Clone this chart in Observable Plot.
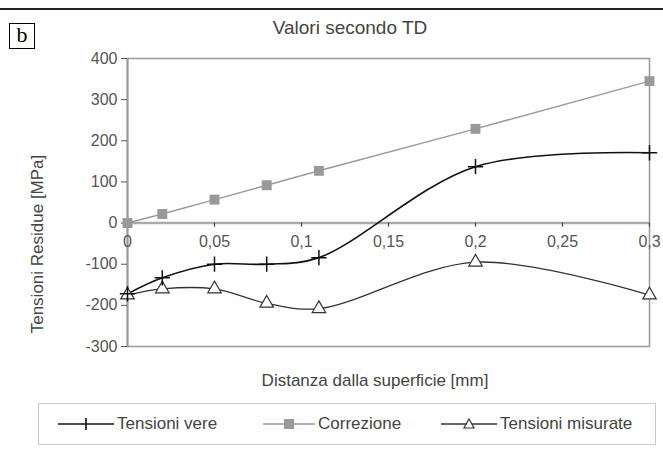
<!DOCTYPE html>
<html>
<head>
<meta charset="utf-8">
<script src="https://cdn.jsdelivr.net/npm/d3@7"></script>
<script src="https://cdn.jsdelivr.net/npm/@observablehq/plot@0.6"></script>
<style>
  html, body { margin: 0; padding: 0; background: #fff; }
  #wrap { position: relative; width: 663px; height: 456px; overflow: hidden; font-family: "Liberation Sans", Arial, sans-serif; color: #444; }
  #wrap svg.plot { position: absolute; left: 0; top: 0; }
  .abs { position: absolute; white-space: nowrap; }
  #topline { left: 0; top: 8px; width: 663px; height: 0; border-top: 2px solid #222; }
  #bbox { left: 9px; top: 23px; width: 24px; height: 24px; border: 1px solid #000; font-family: "Liberation Serif", "Times New Roman", serif; font-size: 22px; color: #000; text-align: center; line-height: 22px; }
  #title { left: 0; width: 700px; top: 17px; text-align: center; font-size: 19px; color: #444; }
  #ytitle { left: 38px; top: 244px; font-size: 17px; color: #444; transform: translate(-50%, -50%) rotate(-90deg); }
  #xtitle { left: 375px; top: 371px; font-size: 17px; color: #444; transform: translateX(-50%); }
  #legend { left: 38px; top: 403px; width: 616px; height: 40px; border: 1px solid #c8c8c8; }
  .item { position: absolute; top: 0; height: 40px; display: flex; align-items: center; font-size: 17px; color: #444; }
  .item svg { margin-right: 2px; }
</style>
</head>
<body>
<div id="wrap">
  <div class="abs" id="topline"></div>
  <div class="abs" id="bbox">b</div>
  <div class="abs" id="title"></div>
  <div class="abs" id="ytitle"></div>
  <div class="abs" id="xtitle"></div>
  <div class="abs" id="legend"></div>
</div>
<script>
const titleText = "Valori secondo TD";
const xLabel = "Distanza dalla superficie [mm]";
const yLabel = "Tensioni Residue [MPa]";

const distanza = [0, 0.02, 0.05, 0.08, 0.11, 0.2, 0.3];
const tensioniVere = [-172, -133, -100, -100, -84, 137, 171];
const correzione = [0, 22, 57, 92, 127, 229, 345];
const tensioniMisurate = [-175, -160, -160, -195, -208, -95, -175];

const seriesNames = ["Tensioni vere", "Correzione", "Tensioni misurate"];
const xTicks = [0, 0.05, 0.1, 0.15, 0.2, 0.25, 0.3];
const yTicks = [-300, -200, -100, 0, 100, 200, 300, 400];

const toRows = vals => distanza.map((x, i) => ({x, y: vals[i]}));
const vere = toRows(tensioniVere);
const corr = toRows(correzione);
const mis = toRows(tensioniMisurate);

const fmtX = d => String(d).replace(".", ",");

const chart = Plot.plot({
  width: 663,
  height: 456,
  marginTop: 58,
  marginBottom: 110,
  marginLeft: 127,
  marginRight: 14,
  style: {fontFamily: "Liberation Sans, Arial, sans-serif", background: "transparent"},
  x: {domain: [0, 0.3], axis: null},
  y: {domain: [-300, 400], axis: null},
  marks: [
    Plot.frame({stroke: "#9a9a9a", strokeWidth: 1.5}),
    Plot.ruleY([0], {stroke: "#aaaaaa", strokeWidth: 2.5}),
    Plot.ruleX([0], {stroke: "#999", strokeWidth: 2}),
    Plot.axisY({ticks: yTicks, tickSize: 6, tickPadding: 4, tickFormat: d => String(d), fontSize: 16, color: "#555", label: null}),
    Plot.ruleX(xTicks, {x: d => d, y1: 0, y2: -10, stroke: "#444", strokeWidth: 1.2}),
    Plot.text(xTicks, {x: d => d, y: 0, dy: 19, text: fmtX, fontSize: 16, fill: "#555"}),
    Plot.line(corr, {x: "x", y: "y", stroke: "#9a9a9a", strokeWidth: 1.5}),
    Plot.line(mis, {x: "x", y: "y", stroke: "#333", strokeWidth: 1.3, curve: "catmull-rom"}),
    Plot.line(vere, {x: "x", y: "y", stroke: "#111", strokeWidth: 1.6, curve: "catmull-rom"}),
    Plot.dot(corr, {x: "x", y: "y", symbol: "square", r: 5.6, fill: "#999", stroke: "none"}),
    Plot.dot(mis, {x: "x", y: "y", symbol: "triangle", r: 5, fill: "white", stroke: "#333", strokeWidth: 1.2}),
    Plot.dot(vere, {x: "x", y: "y", symbol: "plus", r: 5, stroke: "#111", strokeWidth: 1.5})
  ]
});
chart.classList.add("plot");
document.getElementById("wrap").prepend(chart);

document.getElementById("title").textContent = titleText;
document.getElementById("xtitle").textContent = xLabel;
document.getElementById("ytitle").textContent = yLabel;

// legend
const legend = document.getElementById("legend");
const legendPos = [19, 224, 402];
const symbols = [
  '<line x1="0" y1="8" x2="56" y2="8" stroke="#111" stroke-width="1.6"/><line x1="28" y1="2" x2="28" y2="14" stroke="#111" stroke-width="1.6"/>',
  '<line x1="0" y1="8" x2="52" y2="8" stroke="#999" stroke-width="1.5"/><rect x="21" y="3" width="10" height="10" fill="#999"/>',
  '<line x1="0" y1="8" x2="56" y2="8" stroke="#333" stroke-width="1.3"/><path d="M28,3 L33,12 L23,12 Z" fill="white" stroke="#333" stroke-width="1.2"/>'
];
seriesNames.forEach((name, i) => {
  const it = document.createElement("div");
  it.className = "item";
  it.style.left = legendPos[i] + "px";
  it.innerHTML = `<svg width="${i === 1 ? 53 : 57}" height="16">${symbols[i]}</svg><span>${name}</span>`;
  legend.appendChild(it);
});
</script>
</body>
</html>
